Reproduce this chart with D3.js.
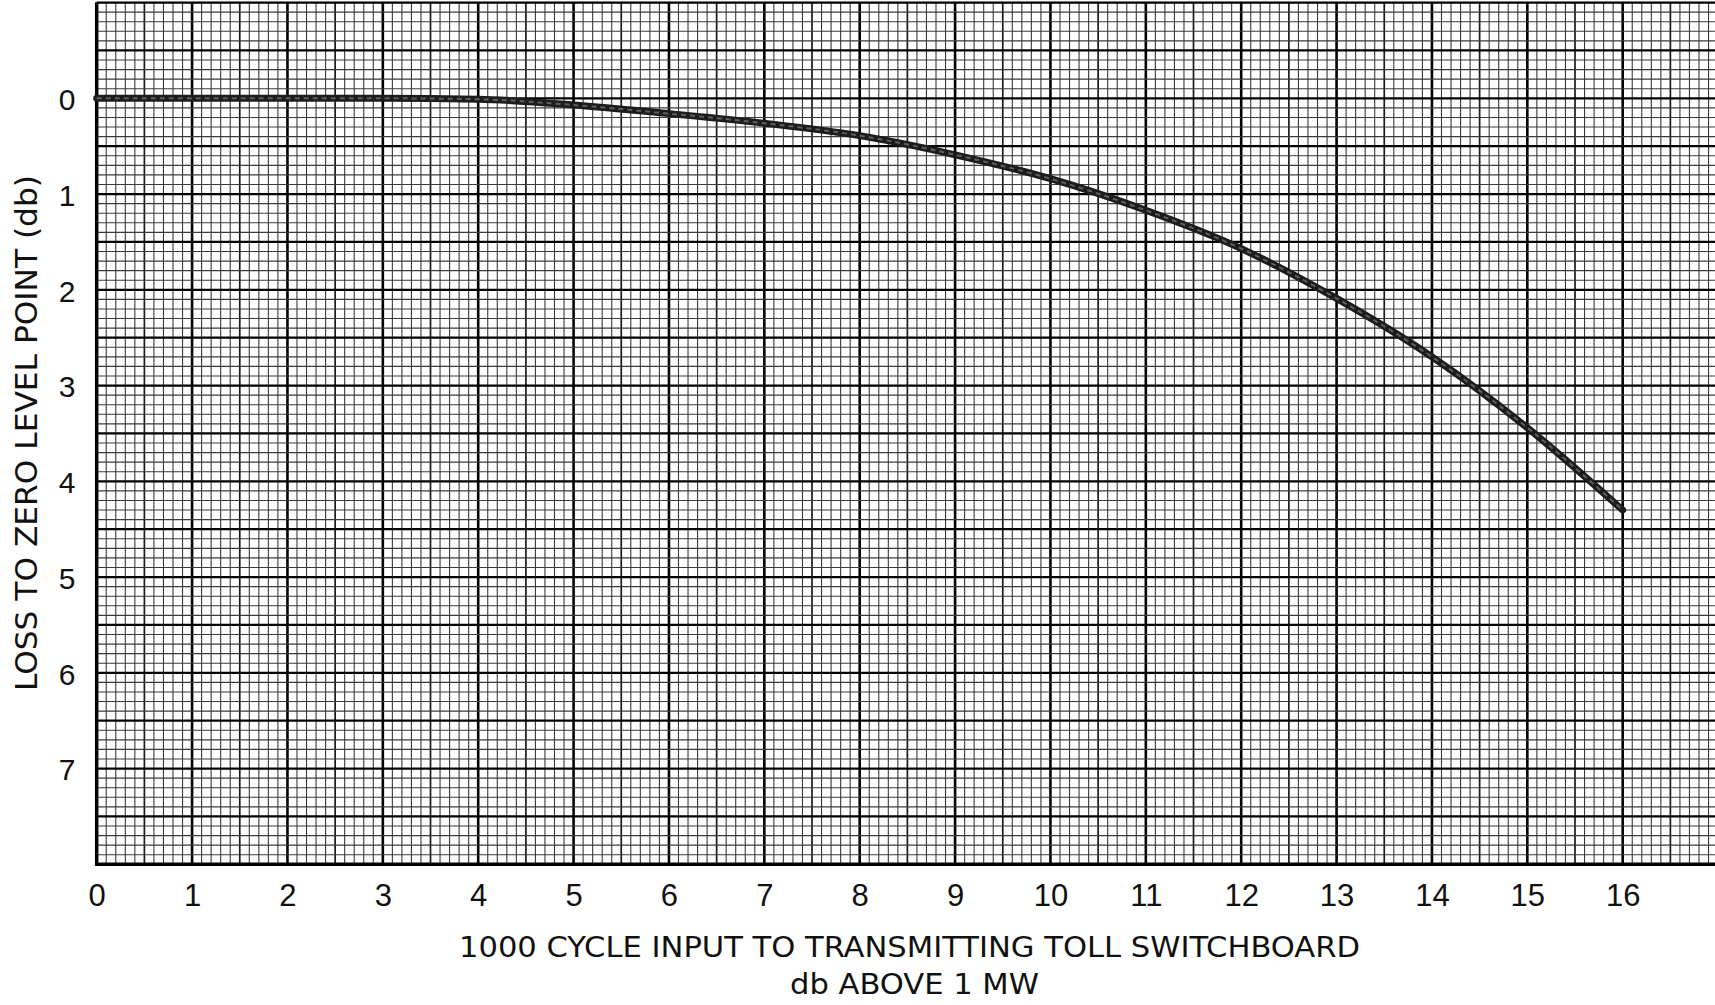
<!DOCTYPE html>
<html>
<head>
<meta charset="utf-8">
<script src="https://cdn.jsdelivr.net/npm/d3@7"></script>
<style>
  html, body { margin: 0; padding: 0; background: #fff; }
  svg { display: block; }
  text { font-family: "Liberation Sans Narrow", "DejaVu Sans Condensed", "Liberation Sans", sans-serif; fill: #111; }
</style>
</head>
<body>
<svg id="chart" width="1715" height="1005"></svg>
<script>
// Input level at the transmitting toll switchboard (db above 1 mW)
const inputDb = [0, 1, 2, 3, 4, 5, 6, 7, 8, 9, 10, 11, 12, 13, 14, 15, 16];
// Loss to zero level point (db)
const lossDb = [0, 0, 0, 0, 0.01, 0.07, 0.16, 0.26, 0.39, 0.59, 0.84, 1.17, 1.57, 2.09, 2.70, 3.44, 4.30];

const xTickLabels = ["0","1","2","3","4","5","6","7","8","9","10","11","12","13","14","15","16"];
const yTickLabels = ["0","1","2","3","4","5","6","7"];

const xTitle = "1000 CYCLE INPUT TO TRANSMITTING TOLL SWITCHBOARD";
const xSubTitle = "db ABOVE 1 MW";
const yTitle = "LOSS TO ZERO LEVEL POINT (db)";

const svg = d3.select("#chart");

// Graph paper geometry: one unit is ten small squares
const left = 96.7, bottom = 864.3;
const xUnit = 95.375, yUnit = 95.75;
const x = d3.scaleLinear().domain([0, 17]).range([left, left + 17 * xUnit]);
const y = d3.scaleLinear().domain([-1, 8]).range([bottom - 9 * yUnit, bottom]);

const grid = svg.append("g").attr("class", "grid");

// Vertical rulings every 0.1 unit
const xs = d3.range(0, 171).map(i => i / 10);
grid.selectAll("line.v").data(xs).join("line")
  .attr("class", "v")
  .attr("x1", d => x(d)).attr("x2", d => x(d))
  .attr("y1", y(-1)).attr("y2", bottom)
  .attr("stroke", d => {
    const k = Math.round(d * 10) % 10;
    return k === 0 ? "#000" : (k === 5 ? "#1a1a1a" : "#3a3a3a");
  })
  .attr("stroke-width", d => {
    const k = Math.round(d * 10) % 10;
    return k === 0 ? 2.6 : (k === 5 ? 1.7 : 1.1);
  });

// Horizontal rulings every 0.1 unit, heavy every half unit
const ys = d3.range(-10, 81).map(i => i / 10);
grid.selectAll("line.h").data(ys).join("line")
  .attr("class", "h")
  .attr("x1", left).attr("x2", x(17))
  .attr("y1", d => y(d)).attr("y2", d => y(d))
  .attr("stroke", d => (Math.round(d * 10) % 5 === 0 ? "#000" : "#3a3a3a"))
  .attr("stroke-width", d => (Math.round(d * 10) % 5 === 0 ? 2.3 : 1.1));

// Border along the left and bottom edges of the sheet
svg.append("line")
  .attr("x1", left).attr("x2", left).attr("y1", y(-1)).attr("y2", bottom + 1.5)
  .attr("stroke", "#000").attr("stroke-width", 3.5);
svg.append("line")
  .attr("x1", left - 1.5).attr("x2", x(17)).attr("y1", bottom).attr("y2", bottom)
  .attr("stroke", "#000").attr("stroke-width", 3.5);

// Loss curve
const pts = inputDb.map((v, i) => [v, lossDb[i]]);
const line = d3.line().x(d => x(d[0])).y(d => y(d[1])).curve(d3.curveMonotoneX);
svg.append("path").datum(pts)
  .attr("d", line)
  .attr("fill", "none").attr("stroke", "#1c1c1c")
  .attr("stroke-width", 7).attr("stroke-linecap", "round");
svg.append("path").datum(pts)
  .attr("d", line)
  .attr("fill", "none").attr("stroke", "#8a8a8a")
  .attr("stroke-width", 2).attr("stroke-dasharray", "5,4")
  .attr("opacity", 0.6);

// Axes (labels only, the paper supplies the rulings)
const xAxis = d3.axisBottom(x)
  .tickValues(inputDb)
  .tickFormat((d, i) => xTickLabels[i])
  .tickSize(0).tickPadding(0);
const gx = svg.append("g").attr("transform", `translate(0,${bottom})`).call(xAxis);
gx.select(".domain").remove();
gx.selectAll("text")
  .attr("y", 42).attr("dy", 0)
  .style("font-family", "'Liberation Sans', sans-serif")
  .style("font-size", "31px").style("fill", "#111");

const yAxis = d3.axisLeft(y)
  .tickValues(d3.range(0, 8))
  .tickFormat((d, i) => yTickLabels[i])
  .tickSize(0).tickPadding(0);
const gy = svg.append("g").attr("transform", `translate(${left},0)`).call(yAxis);
gy.select(".domain").remove();
gy.selectAll("text")
  .attr("x", 67 - left).attr("dy", "0.38em")
  .attr("text-anchor", "middle")
  .style("font-family", "'Liberation Sans', sans-serif")
  .style("font-size", "30px").style("fill", "#111");

// Axis titles
svg.append("text")
  .attr("x", 909.5).attr("y", 957)
  .attr("text-anchor", "middle")
  .attr("textLength", 901).attr("lengthAdjust", "spacingAndGlyphs")
  .style("font-size", "29px")
  .text(xTitle);
svg.append("text")
  .attr("x", 914.5).attr("y", 994)
  .attr("text-anchor", "middle")
  .attr("textLength", 249).attr("lengthAdjust", "spacingAndGlyphs")
  .style("font-size", "29px")
  .text(xSubTitle);
svg.append("text")
  .attr("transform", "translate(37,433) rotate(-90)")
  .attr("text-anchor", "middle")
  .attr("textLength", 516).attr("lengthAdjust", "spacingAndGlyphs")
  .style("font-size", "30px")
  .text(yTitle);
</script>
</body>
</html>
